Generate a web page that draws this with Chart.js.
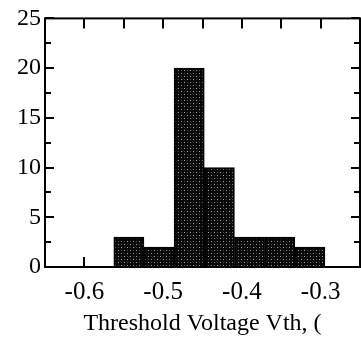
<!DOCTYPE html>
<html>
<head>
<meta charset="utf-8">
<script src="https://cdn.jsdelivr.net/npm/chart.js@4"></script>
<style>
  body { margin: 0; background: #fff; }
</style>
</head>
<body>
<canvas id="histograma" width="361" height="337"></canvas>
<script>
// Datos del histograma
const centrosBins = [-0.5435, -0.5052, -0.4669, -0.4286, -0.3903, -0.3520, -0.3137];
const cuentas = [3, 2, 20, 10, 3, 3, 2];
const ticksX = [-0.6, -0.5, -0.4, -0.3];
const ticksXMenores = [-0.6, -0.55, -0.5, -0.45, -0.4, -0.35, -0.3];
const ticksY = [0, 5, 10, 15, 20, 25];
const ticksYMenores = [2.5, 7.5, 12.5, 17.5, 22.5];

const fuente = 'Liberation Serif';

// Relleno punteado oscuro parecido al original
function crearPatron() {
    const c = document.createElement('canvas');
    c.width = 6;
    c.height = 6;
    const g = c.getContext('2d');
    g.fillStyle = '#080808';
    g.fillRect(0, 0, 6, 6);
    g.fillStyle = '#a0a0a0';
    g.fillRect(1, 1, 1, 1);
    g.fillRect(4, 4, 1, 1);
    g.fillStyle = '#4a4a4a';
    g.fillRect(4, 1, 1, 1);
    g.fillRect(1, 4, 1, 1);
    return g.createPattern(c, 'repeat');
}

// Marcas hacia adentro y marco del gráfico
const marcoPlugin = {
    id: 'marco',
    beforeDatasetsDraw(chart) {
        const { ctx, chartArea: a, scales } = chart;
        ctx.save();
        ctx.strokeStyle = '#000';
        ctx.lineWidth = 2;
        ctx.beginPath();
        ticksXMenores.forEach(v => {
            const px = Math.round(scales.x.getPixelForValue(v));
            ctx.moveTo(px, a.top);
            ctx.lineTo(px, a.top + 10);
            ctx.moveTo(px, a.bottom);
            ctx.lineTo(px, a.bottom - 10);
        });
        ticksY.forEach(v => {
            const py = Math.round(scales.y.getPixelForValue(v));
            ctx.moveTo(a.left, py);
            ctx.lineTo(a.left + 9, py);
            ctx.moveTo(a.right, py);
            ctx.lineTo(a.right - 9, py);
        });
        ticksYMenores.forEach(v => {
            const py = Math.round(scales.y.getPixelForValue(v));
            ctx.moveTo(a.left, py);
            ctx.lineTo(a.left + 6, py);
            ctx.moveTo(a.right, py);
            ctx.lineTo(a.right - 6, py);
        });
        ctx.stroke();
        ctx.restore();
    },
    afterDatasetsDraw(chart) {
        const { ctx, chartArea: a } = chart;
        ctx.save();
        ctx.strokeStyle = '#000';
        ctx.lineWidth = 2;
        ctx.strokeRect(a.left, a.top, a.right - a.left, a.bottom - a.top);
        ctx.restore();
    }
};

const ctx = document.getElementById('histograma').getContext('2d');
new Chart(ctx, {
    type: 'bar',
    data: {
        datasets: [{
            data: centrosBins.map((x, i) => ({ x: x, y: cuentas[i] })),
            backgroundColor: crearPatron(),
            borderColor: '#000',
            borderWidth: 2,
            barPercentage: 1,
            categoryPercentage: 1
        }]
    },
    options: {
        responsive: false,
        animation: false,
        layout: { padding: { top: 18, right: 1, left: 0, bottom: 0 } },
        plugins: {
            legend: { display: false },
            tooltip: { enabled: false }
        },
        scales: {
            x: {
                type: 'linear',
                offset: false,
                min: -0.65,
                max: -0.25,
                afterBuildTicks: s => { s.ticks = ticksX.map(v => ({ value: v })); },
                afterFit: s => { s.height = 70; },
                grid: { display: false, drawTicks: false, offset: false },
                border: { display: false },
                ticks: {
                    padding: 10,
                    color: '#000',
                    font: { family: fuente, size: 25 },
                    maxRotation: 0,
                    callback: v => v.toFixed(1)
                },
                title: {
                    display: true,
                    text: 'Threshold Voltage Vth, (',
                    color: '#000',
                    font: { family: fuente, size: 24, lineHeight: 1.1 },
                    padding: { top: 0, bottom: 0 }
                }
            },
            y: {
                min: 0,
                max: 25,
                afterBuildTicks: s => { s.ticks = ticksY.map(v => ({ value: v })); },
                afterFit: s => { s.width = 45; },
                grid: { display: false, drawTicks: false },
                border: { display: false },
                ticks: {
                    padding: 4,
                    color: '#000',
                    font: { family: fuente, size: 24 }
                }
            }
        }
    },
    plugins: [marcoPlugin]
});
</script>
</body>
</html>
